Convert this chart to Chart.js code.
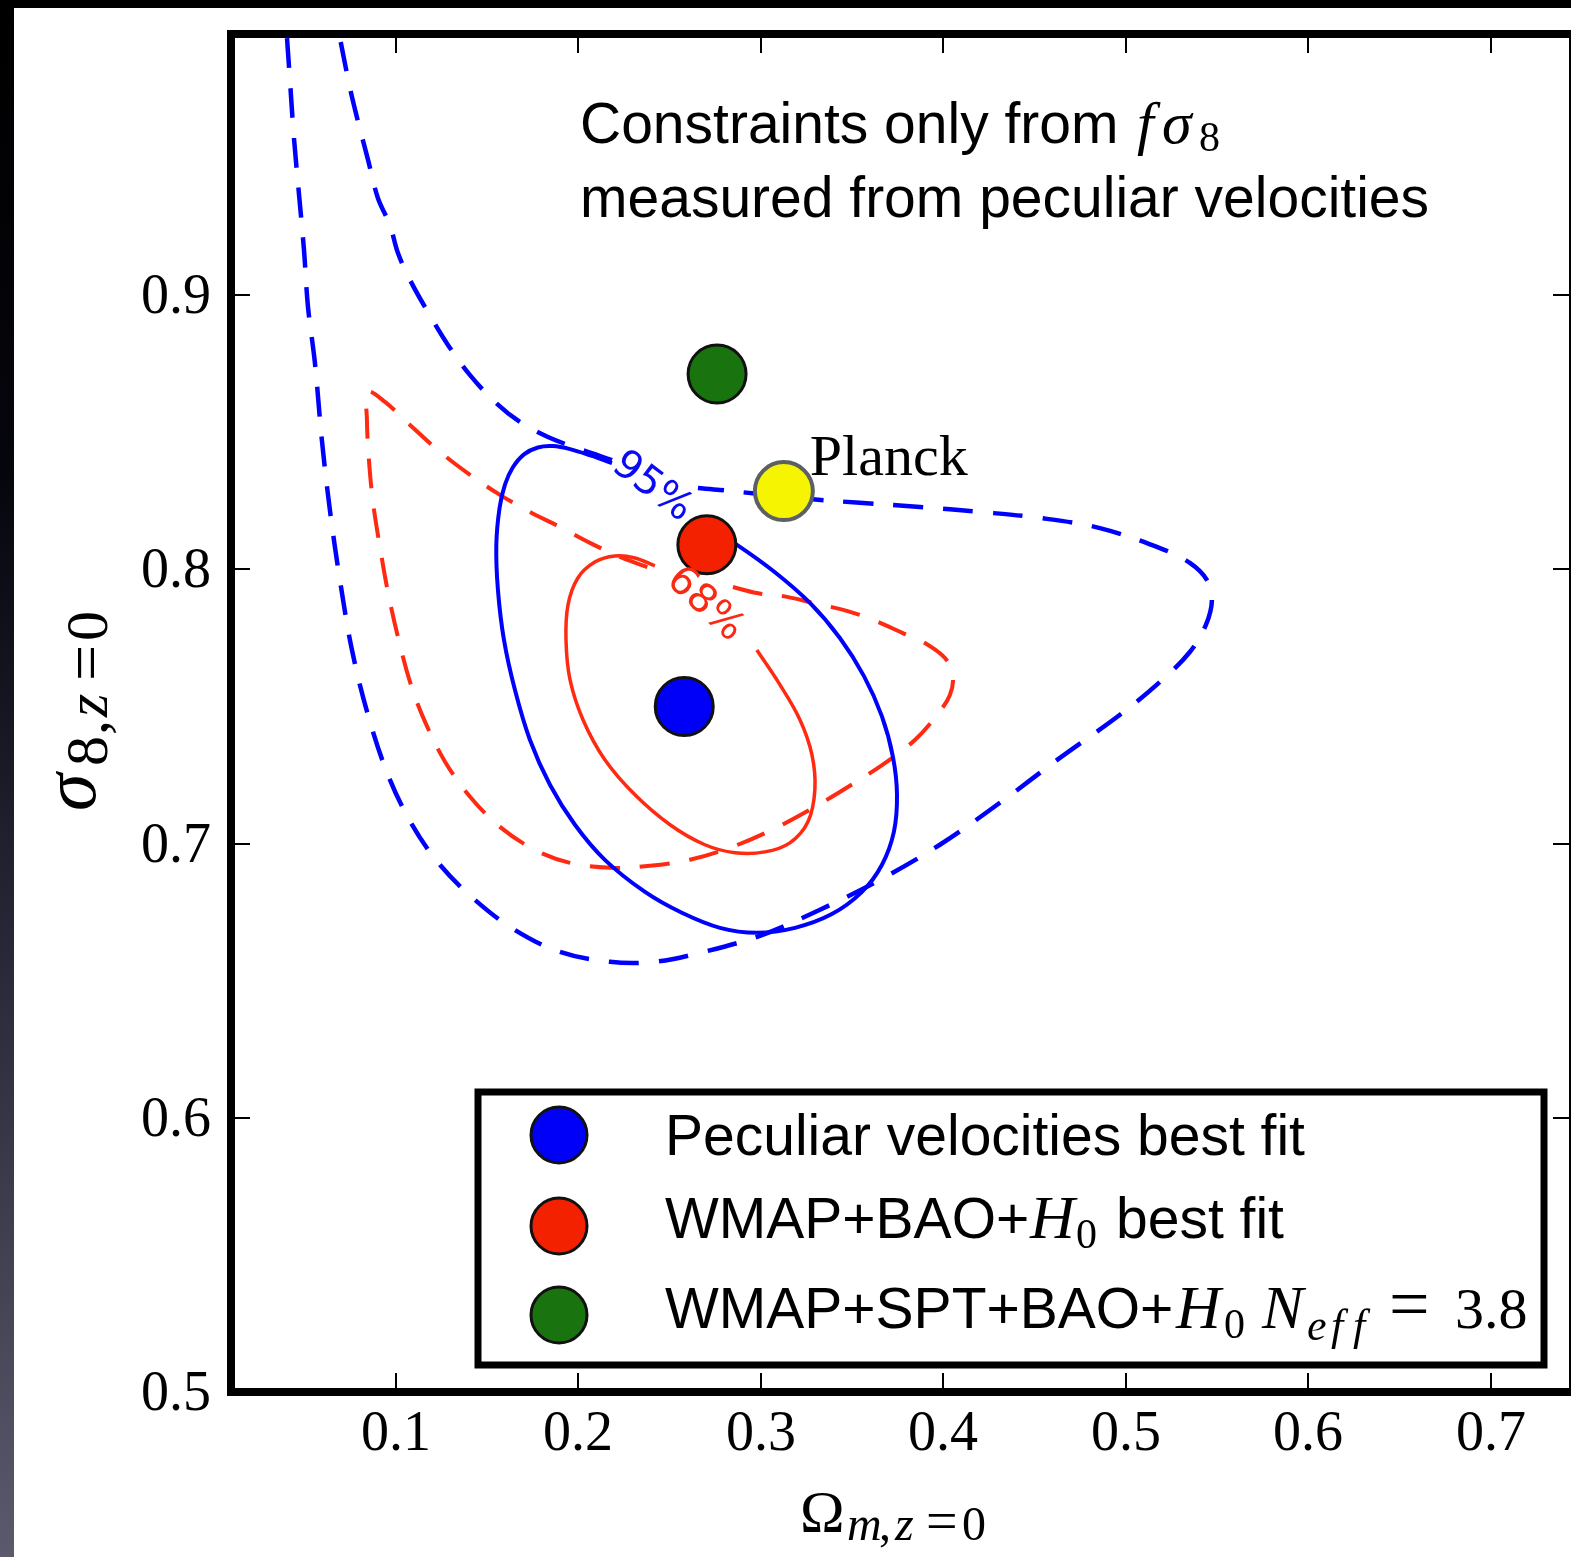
<!DOCTYPE html>
<html><head><meta charset="utf-8">
<script src="https://cdn.jsdelivr.net/npm/chart.js@4"></script>
<style>html,body{margin:0;padding:0;background:#fff;overflow:hidden;}#wrap{position:relative;width:1571px;height:1557px;}canvas{display:block;}</style>
</head><body><div id="wrap"><canvas id="c"></canvas></div>
<script>
// ---------- data (axis units: x = Omega_m,z=0 ; y = sigma_8,z=0) ----------
const xTickValues = [0.1, 0.2, 0.3, 0.4, 0.5, 0.6, 0.7];
const yTickValues = [0.5, 0.6, 0.7, 0.8, 0.9];
const xRange = [0.0096, 0.7429];
const yRange = [0.5, 0.9953];

// blue dashed contour, outer branch (from top edge, round the bottom, back to the 95% label)
const blue95Outer = [
 [0.0403,0.9938],[0.0419,0.9785],[0.0441,0.9574],[0.0468,0.9373],[0.0496,0.9165],[0.0518,0.8957],
 [0.0556,0.8753],[0.0594,0.8472],[0.0638,0.8217],[0.0693,0.7961],[0.0759,0.7706],[0.0847,0.7469],
 [0.0956,0.7251],[0.1088,0.7069],[0.1241,0.6923],[0.1433,0.6795],[0.1652,0.6685],[0.1899,0.6605],
 [0.2173,0.6569],[0.2419,0.6569],[0.2666,0.6602],[0.2995,0.6664],[0.3324,0.6759],[0.3652,0.6868],
 [0.3981,0.6996],[0.4310,0.7149],[0.4639,0.7313],[0.4968,0.7470],[0.5187,0.7590],[0.5351,0.7699],
 [0.5439,0.7798],[0.5472,0.7889],[0.5444,0.7962],[0.5351,0.8024],[0.5187,0.8078],[0.4858,0.8151],
 [0.4529,0.8188],[0.4200,0.8210],[0.3872,0.8228],[0.3543,0.8243],[0.3269,0.8257],[0.2995,0.8275],
 [0.2776,0.8290],[0.2655,0.8297]
];
// blue dashed contour, inner branch (from the 95% label up to the top edge)
const blue95Inner = [
 [0.2184,0.8399],[0.2008,0.8439],[0.1833,0.8483],[0.1680,0.8538],[0.1543,0.8611],[0.1406,0.8709],
 [0.1285,0.8819],[0.1175,0.8939],[0.1077,0.9056],[0.1011,0.9154],[0.0967,0.9256],[0.0901,0.9355],
 [0.0847,0.9494],[0.0786,0.9650],[0.0748,0.9756],[0.0693,0.9938]
];
// blue solid contour
const blue68 = [
 [0.2666,0.8174],[0.2869,0.8090],[0.3077,0.7990],[0.3269,0.7878],[0.3433,0.7750],[0.3565,0.7611],
 [0.3663,0.7465],[0.3724,0.7316],[0.3746,0.7178],[0.3729,0.7043],[0.3663,0.6922],[0.3554,0.6824],
 [0.3389,0.6743],[0.3187,0.6693],[0.2978,0.6675],[0.2776,0.6693],[0.2567,0.6748],[0.2365,0.6824],
 [0.2145,0.6941],[0.1981,0.7069],[0.1844,0.7215],[0.1734,0.7379],[0.1652,0.7561],[0.1592,0.7743],
 [0.1559,0.7925],[0.1550,0.8089],[0.1568,0.8225],[0.1598,0.8310],[0.1640,0.8372],[0.1702,0.8420],
 [0.1778,0.8445],[0.1860,0.8450],[0.1954,0.8439],[0.2074,0.8414],[0.2184,0.8388]
];
// red dashed contour
const red95 = [
 [0.2847,0.7936],[0.2978,0.7914],[0.3143,0.7900],[0.3285,0.7878],[0.3471,0.7849],[0.3614,0.7816],
 [0.3778,0.7768],[0.3899,0.7732],[0.4009,0.7677],[0.4052,0.7615],[0.4036,0.7542],[0.3965,0.7469],
 [0.3844,0.7378],[0.3680,0.7294],[0.3488,0.7211],[0.3269,0.7124],[0.3050,0.7047],[0.2830,0.6985],
 [0.2611,0.6941],[0.2392,0.6919],[0.2173,0.6912],[0.1954,0.6930],[0.1762,0.6977],[0.1570,0.7061],
 [0.1406,0.7171],[0.1269,0.7299],[0.1159,0.7445],[0.1077,0.7590],[0.1011,0.7754],[0.0956,0.7918],
 [0.0912,0.8083],[0.0874,0.8246],[0.0852,0.8400],[0.0841,0.8545],[0.0847,0.8647],[0.0940,0.8611],
 [0.1077,0.8527],[0.1241,0.8429],[0.1406,0.8345],[0.1570,0.8272],[0.1734,0.8210],[0.1899,0.8155],
 [0.2063,0.8097],[0.2228,0.8046],[0.2403,0.8002]
];
// red solid contour
const red68 = [
 [0.2978,0.7706],[0.3104,0.7580],[0.3214,0.7452],[0.3280,0.7324],[0.3296,0.7197],[0.3258,0.7080],
 [0.3159,0.7003],[0.3022,0.6970],[0.2858,0.6967],[0.2693,0.6996],[0.2502,0.7069],[0.2310,0.7178],
 [0.2145,0.7306],[0.2025,0.7452],[0.1954,0.7598],[0.1932,0.7743],[0.1943,0.7871],[0.1997,0.7969],
 [0.2090,0.8027],[0.2200,0.8049],[0.2310,0.8042],[0.2419,0.8013]
];
const peculiarBest = [0.258, 0.750];
const wmapBaoBest = [0.2704, 0.809];
const wmapSptNeff = [0.276, 0.8713];
const planckPoint = [0.3126, 0.8286];
const contourLabels = [
 {text:'95%', x:0.2403, y:0.8300, angle:37, color:'#0a0af5'},
 {text:'68%', x:0.2693, y:0.7871, angle:43, color:'#f82a14'}
];
const legendItems = ['Peculiar velocities best fit', 'WMAP+BAO+', 'WMAP+SPT+BAO+'];

// ---------- styling ----------
const SANS = "'Liberation Sans', Arial, sans-serif";
const SERIF = "'Liberation Serif', 'Times New Roman', serif";
const BLUE = '#0000ff', RED = '#ff2a12';
const pts = a => a.map(p => ({x:p[0], y:p[1]}));

function lineDs(arr, color, dashed, w){
  return {type:'line', data:pts(arr), borderColor:color, borderWidth:w, borderDash: dashed ? [30,20] : [],
    pointRadius:0, fill:false, tension:0.35, order:3, borderCapStyle:'butt'};
}
function dotDs(p, fill, border, bw){
  return {type:'scatter', data:pts([p]), pointRadius:29, pointBackgroundColor:fill,
    pointBorderColor:border, pointBorderWidth:bw, order:1};
}

function rich(ctx, x, y, segs){
  let cx = x;
  segs.forEach(s => {
    if (s.ax !== undefined) cx = s.ax;
    ctx.font = s.f;
    ctx.fillText(s.t, cx, y + (s.dy||0));
    cx += ctx.measureText(s.t).width;
  });
  return cx;
}

const deco = {
  id:'deco',
  afterDatasetsDraw(chart){
    const ctx = chart.ctx, xs = chart.scales.x, ys = chart.scales.y;
    ctx.save();
    contourLabels.forEach(l => {
      ctx.save();
      ctx.translate(xs.getPixelForValue(l.x), ys.getPixelForValue(l.y));
      ctx.rotate(l.angle*Math.PI/180);
      ctx.fillStyle = l.color; ctx.font = "40px 'DejaVu Sans', sans-serif";
      ctx.textAlign='center'; ctx.textBaseline='middle';
      ctx.fillText(l.text, 0, 0);
      ctx.restore();
    });
    const pxp = xs.getPixelForValue(planckPoint[0]), pyp = ys.getPixelForValue(planckPoint[1]);
    ctx.fillStyle='#000'; ctx.font = '58px '+SERIF; ctx.textBaseline='alphabetic'; ctx.textAlign='left';
    ctx.fillText('Planck', pxp+26, pyp-16);
    ctx.restore();
  },
  afterDraw(chart){
    const ctx = chart.ctx, ca = chart.chartArea, xs = chart.scales.x, ys = chart.scales.y;
    const W = chart.width, H = chart.height;
    ctx.save();
    ctx.strokeStyle='#000'; ctx.lineWidth=2;
    const seg=(a,b,c,d)=>{ctx.beginPath();ctx.moveTo(a,b);ctx.lineTo(c,d);ctx.stroke();};
    // inward tick marks + tick labels
    ctx.fillStyle='#000'; ctx.font='56px '+SERIF; ctx.textBaseline='alphabetic';
    xTickValues.forEach(v=>{const p=Math.round(xs.getPixelForValue(v));
      seg(p, ca.bottom-4, p, ca.bottom-19); seg(p, ca.top+4, p, ca.top+19);
      ctx.textAlign='center'; ctx.fillText(v.toFixed(1), p, ca.bottom+58);});
    yTickValues.forEach(v=>{const p=Math.round(ys.getPixelForValue(v));
      seg(ca.left+4, p, ca.left+19, p); seg(ca.right, p, ca.right-16, p);
      ctx.textAlign='right'; ctx.fillText(v.toFixed(1), ca.left-20, p+18);});
    ctx.textAlign='left';
    // frame
    ctx.lineWidth=8; ctx.lineCap='butt';
    ctx.beginPath(); ctx.moveTo(W, ca.top); ctx.lineTo(ca.left, ca.top); ctx.lineTo(ca.left, ca.bottom); ctx.lineTo(W, ca.bottom); ctx.stroke();
    ctx.lineWidth=2; seg(ca.right+1, ca.top, ca.right+1, ca.bottom);

    // title
    ctx.fillStyle='#000';
    rich(ctx, 580, 143, [
      {t:'Constraints only from', f:'57px '+SANS},
      {t:'f', f:'italic 60px '+SERIF, ax:1137},
      {t:'σ', f:'italic 60px '+SERIF, ax:1162},
      {t:'8', f:'42px '+SERIF, dy:8, ax:1199}
    ]);
    rich(ctx, 580, 217, [{t:'measured from peculiar velocities', f:'57px '+SANS}]);

    // legend
    ctx.fillStyle='#fff'; ctx.fillRect(478,1092,1066,273);
    ctx.strokeStyle='#000'; ctx.lineWidth=7; ctx.strokeRect(478,1092,1066,273);
    const mk=[[1135,'#0000f8'],[1226,'#f42100'],[1315,'#19730f']];
    mk.forEach(m=>{ctx.beginPath(); ctx.arc(559,m[0],28,0,2*Math.PI); ctx.fillStyle=m[1]; ctx.fill();
      ctx.lineWidth=3; ctx.strokeStyle='#111'; ctx.stroke();});
    ctx.fillStyle='#000';
    rich(ctx, 665, 1155, [{t:legendItems[0], f:'57px '+SANS}]);
    rich(ctx, 665, 1238, [
      {t:legendItems[1], f:'57px '+SANS},
      {t:'H', f:'italic 62px '+SERIF, ax:1030},
      {t:'0', f:'42px '+SERIF, dy:10, ax:1076},
      {t:'best fit', f:'57px '+SANS, ax:1116}
    ]);
    rich(ctx, 665, 1328, [
      {t:legendItems[2], f:'57px '+SANS},
      {t:'H', f:'italic 62px '+SERIF, ax:1176},
      {t:'0', f:'42px '+SERIF, dy:10, ax:1224},
      {t:'N', f:'italic 62px '+SERIF, ax:1262},
      {t:'e', f:'italic 44px '+SERIF, dy:12, ax:1307},
      {t:'f', f:'italic 44px '+SERIF, dy:12, ax:1331},
      {t:'f', f:'italic 44px '+SERIF, dy:12, ax:1353},
      {t:'=', f:'72px '+SERIF, ax:1389},
      {t:'3.8', f:'58px '+SERIF, ax:1455}
    ]);

    // x-axis title
    rich(ctx, 800, 1532, [
      {t:'Ω', f:'60px '+SERIF},
      {t:'m', f:'italic 48px '+SERIF, dy:8, ax:847},
      {t:',', f:'48px '+SERIF, dy:8, ax:879},
      {t:'z', f:'italic 48px '+SERIF, dy:8, ax:895},
      {t:'=', f:'56px '+SERIF, dy:8, ax:926},
      {t:'0', f:'48px '+SERIF, dy:8, ax:962}
    ]);
    // y-axis title
    ctx.save();
    ctx.translate(95, 811); ctx.rotate(-Math.PI/2);
    rich(ctx, 0, 0, [
      {t:'σ', f:'italic 76px '+SERIF, ax:0},
      {t:'8', f:'60px '+SERIF, dy:12, ax:45},
      {t:',', f:'60px '+SERIF, dy:12, ax:76},
      {t:'z', f:'italic 60px '+SERIF, dy:12, ax:94},
      {t:'=', f:'64px '+SERIF, dy:12, ax:130},
      {t:'0', f:'60px '+SERIF, dy:12, ax:170}
    ]);
    ctx.restore();

    // dark slide edges
    ctx.fillStyle='#000'; ctx.fillRect(0,0,W,8);
    const g = ctx.createLinearGradient(0,0,0,H);
    g.addColorStop(0,'#000'); g.addColorStop(0.3,'#05050c'); g.addColorStop(0.6,'#262636'); g.addColorStop(1,'#5a5a6c');
    ctx.fillStyle=g; ctx.fillRect(0,0,14,H);
    ctx.restore();
  }
};

new Chart(document.getElementById('c'), {
  type:'scatter',
  data:{datasets:[
    lineDs(blue95Outer, BLUE, true, 4.5),
    lineDs(blue95Inner, BLUE, true, 4.5),
    lineDs(blue68, BLUE, false, 4),
    lineDs(red95, RED, true, 4),
    lineDs(red68, RED, false, 3.5),
    dotDs(peculiarBest, '#0000f8', '#111', 3),
    dotDs(wmapBaoBest, '#f42100', '#111', 3),
    dotDs(wmapSptNeff, '#19730f', '#111', 3),
    dotDs(planckPoint, '#f6f400', '#5b6163', 4)
  ]},
  options:{
    responsive:true, maintainAspectRatio:false, animation:false, events:[],
    layout:{autoPadding:false, padding:{top:34, right:2, left:231, bottom:165}},
    plugins:{legend:{display:false}, tooltip:{enabled:false}, title:{display:false}},
    scales:{
      x:{type:'linear', display:false, min:xRange[0], max:xRange[1],
         afterBuildTicks:s=>{s.ticks = xTickValues.map(v=>({value:v}));}},
      y:{type:'linear', display:false, min:yRange[0], max:yRange[1],
         afterBuildTicks:s=>{s.ticks = yTickValues.map(v=>({value:v}));}}
    }
  },
  plugins:[deco]
});
</script></body></html>
